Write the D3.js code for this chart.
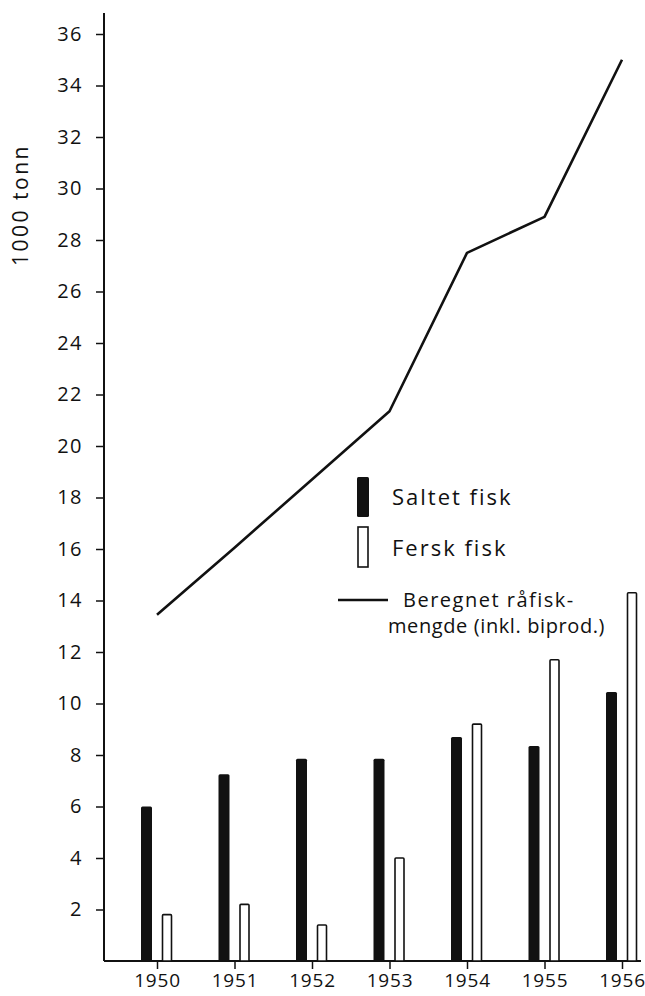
<!DOCTYPE html>
<html>
<head>
<meta charset="utf-8">
<script src="https://cdn.jsdelivr.net/npm/d3@7"></script>
<style>
  body { margin: 0; background: #fff; }
  text { font-family: "Open Sans", sans-serif; fill: #111; }
</style>
</head>
<body>
<div id="vis"></div>
<script>
// data (1000 tonn)
var years = [1950, 1951, 1952, 1953, 1954, 1955, 1956];
var saltet = [6.0, 7.25, 7.85, 7.85, 8.7, 8.35, 10.45];
var fersk = [1.8, 2.2, 1.4, 4.0, 9.2, 11.7, 14.3];
var raafisk = [13.45, 16.05, 18.7, 21.35, 27.5, 28.9, 35.0];
var yTicks = [2, 4, 6, 8, 10, 12, 14, 16, 18, 20, 22, 24, 26, 28, 30, 32, 34, 36];

var w = 645;
var h = 996;

var chart = d3.select("#vis")
              .append("svg")
              .attr("width", w)
              .attr("height", h)
              .style("background-color", "#fff")

const xScale = d3.scalePoint()
            .domain(years)
            .range([157, 622])

const yScale = d3.scaleLinear()
            .domain([0, 36])
            .range([961, 34])

// y axis
const yAxis = chart.append("g")
                   .attr("transform", "translate(104,0)")
                   .call(d3.axisLeft(yScale).tickValues(yTicks).tickSize(8).tickPadding(13))
yAxis.select(".domain").remove()
yAxis.append("line")
     .attr("x1", 0).attr("x2", 0)
     .attr("y1", 13).attr("y2", yScale(0))
     .attr("stroke", "#111").attr("stroke-width", 2)
yAxis.selectAll(".tick line").attr("stroke", "#111").attr("stroke-width", 1.5)
yAxis.selectAll(".tick text")
     .style("font-size", "20px")
     .style("letter-spacing", "1.5px")
     .attr("fill", "#111")

// x axis
const xAxis = chart.append("g")
                   .attr("transform", `translate(0,${yScale(0)})`)
                   .call(d3.axisBottom(xScale).tickSize(8).tickPadding(5))
xAxis.select(".domain").remove()
xAxis.append("line")
     .attr("x1", 104).attr("x2", 641)
     .attr("y1", 0).attr("y2", 0)
     .attr("stroke", "#111").attr("stroke-width", 2)
xAxis.selectAll(".tick line").attr("stroke", "#111").attr("stroke-width", 1.5)
xAxis.selectAll(".tick text")
     .style("font-size", "19px")
     .style("letter-spacing", "0.8px")
     .attr("fill", "#111")

// y title
chart.append("text")
     .attr("transform", "translate(28,205) rotate(-90)")
     .attr("text-anchor", "middle")
     .style("font-size", "21px")
     .style("letter-spacing", "2.5px")
     .text("1000 tonn")

// bars
chart.selectAll(".saltet")
     .data(years)
     .enter()
     .append("rect")
     .attr("class", "saltet")
     .attr("x", (d, i) => xScale(d) - 16)
     .attr("y", (d, i) => yScale(saltet[i]))
     .attr("width", 11)
     .attr("height", (d, i) => yScale(0) - yScale(saltet[i]))
     .attr("rx", 1.5)
     .attr("fill", "#111")

chart.selectAll(".fersk")
     .data(years)
     .enter()
     .append("rect")
     .attr("class", "fersk")
     .attr("x", (d, i) => xScale(d) + 5.5)
     .attr("y", (d, i) => yScale(fersk[i]))
     .attr("width", 9)
     .attr("height", (d, i) => yScale(0) - yScale(fersk[i]))
     .attr("rx", 1)
     .attr("fill", "#fff")
     .attr("stroke", "#111")
     .attr("stroke-width", 1.6)

// line
const line = d3.line()
               .x((d, i) => xScale(years[i]))
               .y(d => yScale(d))
chart.append("path")
     .datum(raafisk)
     .attr("d", line)
     .attr("fill", "none")
     .attr("stroke", "#111")
     .attr("stroke-width", 2.6)
     .attr("stroke-linejoin", "round")

// legend
const leg = chart.append("g")
leg.append("rect")
   .attr("x", 357).attr("y", 477).attr("width", 12).attr("height", 40)
   .attr("rx", 1.5).attr("fill", "#111")
leg.append("rect")
   .attr("x", 358).attr("y", 527).attr("width", 10).attr("height", 40)
   .attr("fill", "#fff").attr("stroke", "#111").attr("stroke-width", 1.6)
leg.append("line")
   .attr("x1", 338).attr("x2", 388).attr("y1", 600).attr("y2", 600)
   .attr("stroke", "#111").attr("stroke-width", 2.5)
leg.append("text")
   .attr("x", 392).attr("y", 505)
   .style("font-size", "22px").style("letter-spacing", "2px")
   .text("Saltet fisk")
leg.append("text")
   .attr("x", 392).attr("y", 556)
   .style("font-size", "22px").style("letter-spacing", "2px")
   .text("Fersk fisk")
leg.append("text")
   .attr("x", 403).attr("y", 607)
   .style("font-size", "20px").style("letter-spacing", "1.5px")
   .text("Beregnet råfisk-")
leg.append("text")
   .attr("x", 388).attr("y", 633)
   .style("font-size", "20px").style("letter-spacing", "0.6px")
   .text("mengde (inkl. biprod.)")
</script>
</body>
</html>
